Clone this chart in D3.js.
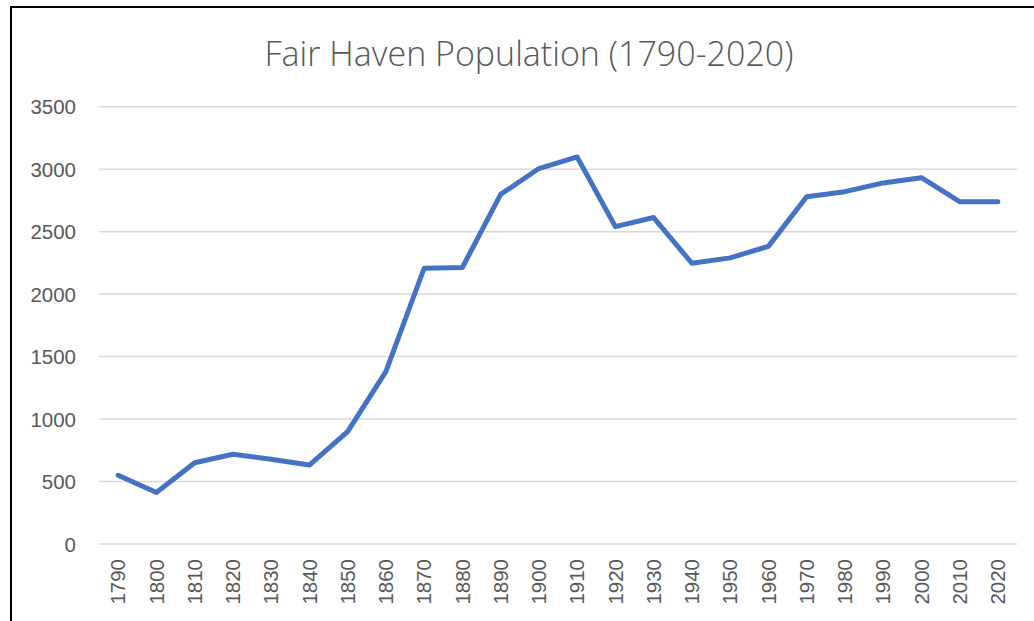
<!DOCTYPE html>
<html>
<head>
<meta charset="utf-8">
<script src="https://cdn.jsdelivr.net/npm/d3@7"></script>
<style>
  html, body { margin: 0; padding: 0; background: #fff; }
  svg { display: block; }
</style>
</head>
<body>
<svg id="chart" width="1034" height="621"></svg>
<script>
const title = "Fair Haven Population (1790-2020)";
const years = ["1790","1800","1810","1820","1830","1840","1850","1860","1870","1880","1890","1900","1910","1920","1930","1940","1950","1960","1970","1980","1990","2000","2010","2020"];
const population = [550, 412, 650, 718, 678, 632, 900, 1379, 2207, 2213, 2798, 3005, 3098, 2540, 2613, 2247, 2290, 2382, 2780, 2820, 2890, 2932, 2740, 2740];
const yTicks = [0, 500, 1000, 1500, 2000, 2500, 3000, 3500];

const svg = d3.select("#chart");
const plot = { left: 99, right: 1017, top: 106.7, bottom: 544 };

// chart border (extends beyond the visible window on right/bottom)
svg.append("rect")
  .attr("x", 11).attr("y", 7)
  .attr("width", 1100).attr("height", 700)
  .attr("fill", "#fff").attr("stroke", "#000").attr("stroke-width", 2);

const x = d3.scaleBand().domain(years).range([plot.left, plot.right]);
const y = d3.scaleLinear().domain([0, 3500]).range([plot.bottom, plot.top]);

// gridlines
svg.append("g")
  .selectAll("line")
  .data(yTicks)
  .join("line")
  .attr("x1", plot.left).attr("x2", plot.right)
  .attr("y1", d => y(d)).attr("y2", d => y(d))
  .attr("stroke", "#d9d9d9").attr("stroke-width", 1.5);

const labelFont = "'Liberation Sans', Arial, sans-serif";

// y axis labels
const yAxis = d3.axisLeft(y).tickValues(yTicks).tickSize(0).tickPadding(0).tickFormat(d3.format("d"));
const gy = svg.append("g").attr("transform", `translate(76,0)`).call(yAxis);
gy.select(".domain").remove();
gy.selectAll("text")
  .attr("fill", "#595959")
  .style("font-family", labelFont)
  .style("font-size", "20.5px")
  .attr("dy", "0.35em");

// x axis labels (rotated)
const xAxis = d3.axisBottom(x).tickSize(0).tickPadding(0);
const gx = svg.append("g").attr("transform", `translate(0,${plot.bottom})`).call(xAxis);
gx.select(".domain").remove();
gx.selectAll("text")
  .attr("fill", "#595959")
  .style("font-family", labelFont)
  .style("font-size", "20.5px")
  .attr("text-anchor", "end")
  .attr("transform", "rotate(-90)")
  .attr("x", -15)
  .attr("y", 0)
  .attr("dy", "0.35em");

// line
const line = d3.line()
  .x((d, i) => x(years[i]) + x.bandwidth() / 2)
  .y(d => y(d));
svg.append("path")
  .datum(population)
  .attr("d", line)
  .attr("fill", "none")
  .attr("stroke", "#4472C4")
  .attr("stroke-width", 5)
  .attr("stroke-linejoin", "round")
  .attr("stroke-linecap", "round");

// title
svg.append("text")
  .attr("x", 529).attr("y", 66)
  .attr("text-anchor", "middle")
  .attr("fill", "#595959")
  .style("font-family", "'Open Sans', 'Liberation Sans', sans-serif")
  .style("font-weight", 300)
  .style("font-size", "34px")
  .text(title);
</script>
</body>
</html>
